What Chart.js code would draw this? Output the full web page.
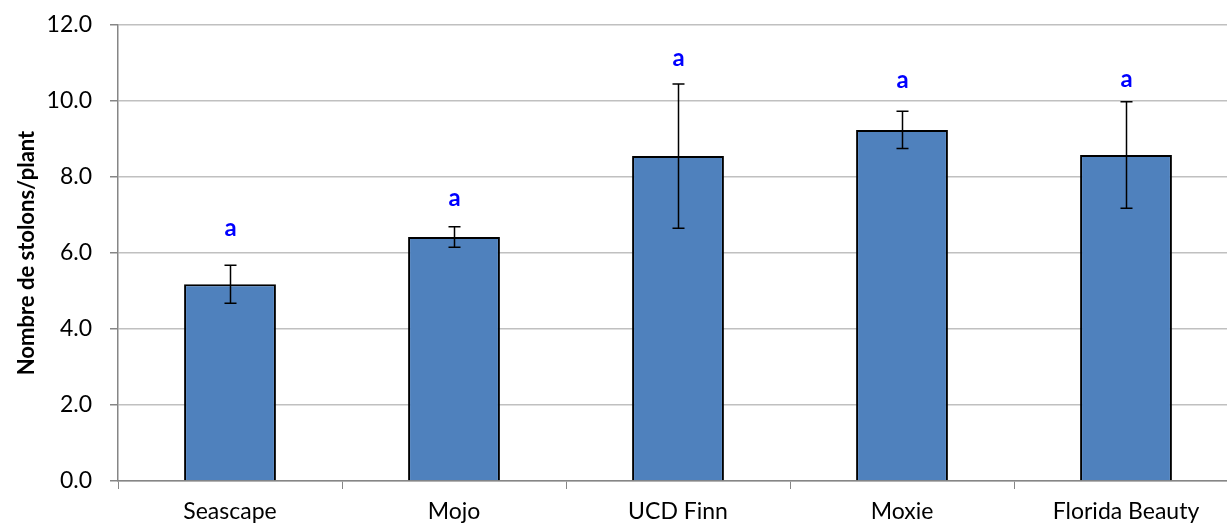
<!DOCTYPE html>
<html>
<head>
<meta charset="utf-8">
<script src="https://cdn.jsdelivr.net/npm/chart.js@4.4.0/dist/chart.umd.min.js"></script>
<style>
  html, body { margin: 0; padding: 0; background: #fff; overflow: hidden; }
  #wrap { width: 1240px; height: 525px; }
</style>
</head>
<body>
<div id="wrap"><canvas id="chart1"></canvas></div>
<script>
var categories = ["Seascape", "Mojo", "UCD Finn", "Moxie", "Florida Beauty"];
var means = [5.18, 6.42, 8.55, 9.24, 8.58];
var errors = [0.50, 0.27, 1.90, 0.49, 1.40];
var letters = ["a", "a", "a", "a", "a"];
var letterPos = [6.66, 7.45, 11.13, 10.55, 10.58];
var yTicks = [0, 2, 4, 6, 8, 10, 12];

// error bars + significance letters
var errorBarPlugin = {
  id: "errorBars",
  afterDatasetsDraw: function (chart) {
    var ctx = chart.ctx;
    var y = chart.scales.y;
    var meta = chart.getDatasetMeta(0);
    ctx.save();
    ctx.strokeStyle = "#000";
    ctx.lineWidth = 1.5;
    meta.data.forEach(function (bar, i) {
      var x = Math.round(bar.x) + 0.5;
      var top = y.getPixelForValue(means[i] + errors[i]);
      var bot = y.getPixelForValue(means[i] - errors[i]);
      ctx.beginPath();
      ctx.moveTo(x, top);
      ctx.lineTo(x, bot);
      ctx.moveTo(x - 6, top);
      ctx.lineTo(x + 6, top);
      ctx.moveTo(x - 6, bot);
      ctx.lineTo(x + 6, bot);
      ctx.stroke();

      ctx.fillStyle = "#0000ff";
      ctx.font = "bold 24px Lato";
      ctx.textAlign = "center";
      ctx.textBaseline = "middle";
      ctx.fillText(letters[i], x, y.getPixelForValue(letterPos[i]));
    });
    ctx.restore();
  },
};

var ctx = document.getElementById("chart1").getContext("2d");
var myChart = new Chart(ctx, {
  type: "bar",
  data: {
    labels: categories,
    datasets: [
      {
        data: means,
        backgroundColor: "#4f81bd",
        borderColor: "#000",
        borderWidth: 2,
        borderSkipped: "bottom",
        barPercentage: 0.41,
        categoryPercentage: 1,
      },
    ],
  },
  options: {
    responsive: true,
    maintainAspectRatio: false,
    animation: false,
    layout: { padding: { top: 25, right: 2, left: 0, bottom: 0 } },
    plugins: {
      legend: { display: false },
      tooltip: { enabled: false },
    },
    scales: {
      x: {
        grid: {
          offset: true,
          drawOnChartArea: false,
          drawTicks: true,
          tickLength: 8,
          color: "#868686",
        },
        border: { color: "#868686", width: 1.5 },
        ticks: {
          color: "#000",
          font: { family: "Lato", size: 23 },
          padding: 9,
          maxRotation: 0,
        },
        afterFit: function (scale) {
          scale.height = 44;
        },
      },
      y: {
        min: 0,
        max: 12,
        afterBuildTicks: function (scale) {
          scale.ticks = yTicks.map(function (v) { return { value: v }; });
        },
        grid: {
          color: "#c0c0c0",
          lineWidth: 1.5,
          tickLength: 8,
          tickColor: "#868686",
        },
        border: { color: "#868686", width: 1.5 },
        ticks: {
          color: "#000",
          font: { family: "Lato", size: 23 },
          padding: 18,
          callback: function (v) { return Number(v).toFixed(1); },
        },
        title: {
          display: true,
          text: "Nombre de stolons/plant",
          color: "#000",
          font: { family: "Lato", size: 22, weight: "bold" },
          padding: { top: 14, bottom: 4 },
        },
        afterFit: function (scale) {
          scale.width = 118;
          scale.paddingTop = 0;
          scale.paddingBottom = 0;
        },
      },
    },
  },
  plugins: [errorBarPlugin],
});
</script>
</body>
</html>
